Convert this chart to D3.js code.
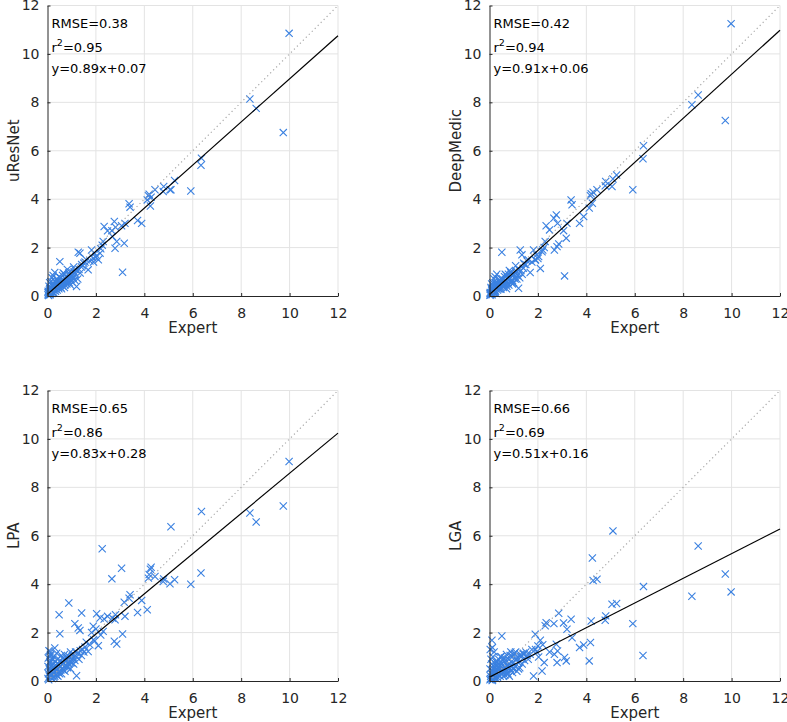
<!DOCTYPE html>
<html>
<head>
<meta charset="utf-8">
<script src="https://cdn.jsdelivr.net/npm/d3@7"></script>
<style>
  html, body { margin: 0; padding: 0; background: #ffffff; }
  svg { display: block; font-family: "DejaVu Sans", sans-serif; }
</style>
</head>
<body>
<svg id="chart" width="787" height="722"></svg>
<script>
// ---------------- data ----------------
const methods = ["uResNet", "DeepMedic", "LPA", "LGA"];
const rmseLabels = ["0.38", "0.42", "0.65", "0.66"];
const r2Labels = ["0.95", "0.94", "0.86", "0.69"];
const slopes = [0.89, 0.91, 0.83, 0.51];
const intercepts = [0.07, 0.06, 0.28, 0.16];
const axisTicks = [0, 2, 4, 6, 8, 10, 12];
const xLabel = "Expert";

// Expert (reference) volumes, one per subject
const expert = [
  9.98, 9.74, 8.62, 8.36, 6.36, 6.34, 5.92, 5.25, 5.1, 5.06,
  4.8, 4.78, 4.44, 4.28, 4.25, 4.17, 4.12, 4.2, 3.89, 3.72,
  3.41, 3.37, 3.2, 3.1, 3.17, 2.86, 2.81, 2.76, 2.79, 2.68,
  2.66, 3.06, 2.48, 2.34, 2.3, 2.26, 2.17, 2.1, 2.03, 1.89,
  1.82, 1.68, 1.34, 1.27, 1.2, 0.51, 0.3, 0.88, 0.48, 1.41,
  1.13, 0.1, 0.12,
  0.02, 0.04, 0.05, 0.07, 0.08, 0.1, 0.12, 0.13, 0.15, 0.17,
  0.18, 0.2, 0.22, 0.24, 0.25, 0.27, 0.28, 0.3, 0.32, 0.33,
  0.35, 0.37, 0.38, 0.4, 0.42, 0.44, 0.45, 0.47, 0.5, 0.52,
  0.54, 0.55, 0.57, 0.6, 0.62, 0.64, 0.66, 0.68, 0.7, 0.72,
  0.74, 0.76, 0.78, 0.8, 0.83, 0.85, 0.88, 0.9, 0.93, 0.95,
  0.98, 1.0, 1.03, 1.06, 1.1, 1.13, 1.16, 1.2, 1.25, 1.3,
  1.35, 1.4, 1.45, 1.5, 1.55, 1.6, 1.75, 1.95, 2.0, 2.2,
  1.9, 0.06, 0.03, 0.09, 0.14, 0.19, 0.23, 0.26, 0.02, 0.11,
  0.16, 0.21, 0.36, 0.43, 0.58, 0.65, 0.7, 0.82, 0.95, 1.08
];

const uResNet = [
  10.85, 6.75, 7.75, 8.14, 5.69, 5.4, 4.34, 4.77, 4.39, 4.39,
  4.52, 4.32, 4.39, 4.08, 3.72, 4.14, 3.97, 4.2, 3.0, 3.12,
  3.67, 3.81, 3.0, 0.98, 2.18, 2.25, 2.84, 3.08, 1.97, 2.46,
  2.7, 2.9, 2.69, 2.87, 2.25, 2.1, 1.77, 1.5, 1.66, 1.56,
  1.9, 1.08, 1.77, 1.81, 0.39, 1.42, 0.97, 0.95, 0.8, 1.3,
  1.1, 0.3, 0.2,
  0.05, 0.1, 0.02, 0.15, 0.25, 0.08, 0.35, 0.12, 0.2, 0.45,
  0.1, 0.3, 0.18, 0.5, 0.25, 0.12, 0.4, 0.3, 0.6, 0.2,
  0.45, 0.35, 0.7, 0.25, 0.5, 0.4, 0.65, 0.3, 0.55, 0.45,
  0.75, 0.35, 0.6, 0.5, 0.85, 0.4, 0.65, 0.55, 0.9, 0.45,
  0.7, 0.6, 0.8, 0.5, 0.75, 0.65, 0.9, 0.55, 0.8, 0.7,
  1.0, 0.6, 0.85, 0.75, 1.0, 0.65, 0.9, 1.05, 0.7, 1.1,
  0.95, 1.2, 1.25, 1.35, 1.4, 1.5, 1.45, 1.75, 1.6, 1.95,
  1.4, 0.4, 0.2, 0.55, 0.6, 0.75, 0.85, 0.45, 0.15, 0.05,
  0.3, 0.15, 0.55, 0.6, 0.3, 0.95, 0.35, 1.1, 0.45, 1.2
];

const deepMedic = [
  11.25, 7.25, 8.3, 7.9, 6.21, 5.67, 4.39, 5.0, 4.83, 4.52,
  4.73, 4.55, 4.39, 4.29, 3.83, 4.14, 3.63, 4.22, 3.28, 3.0,
  3.77, 3.97, 3.0, 0.83, 2.39, 2.15, 3.0, 3.35, 2.04, 1.9,
  3.21, 2.7, 2.73, 2.9, 2.25, 2.0, 1.83, 1.14, 1.63, 1.49,
  1.9, 0.97, 1.7, 1.9, 0.32, 1.81, 0.9, 1.0, 0.7, 1.35,
  1.0, 0.2, 0.25,
  0.03, 0.08, 0.05, 0.12, 0.3, 0.1, 0.3, 0.18, 0.15, 0.4,
  0.12, 0.25, 0.22, 0.55, 0.2, 0.1, 0.45, 0.35, 0.5, 0.25,
  0.4, 0.3, 0.65, 0.3, 0.55, 0.35, 0.6, 0.28, 0.5, 0.5,
  0.7, 0.4, 0.55, 0.45, 0.8, 0.5, 0.6, 0.65, 0.85, 0.4,
  0.75, 0.55, 0.9, 0.45, 0.7, 0.6, 0.95, 0.6, 0.85, 0.65,
  0.9, 0.55, 0.9, 0.7, 0.95, 0.7, 0.85, 1.1, 0.75, 1.05,
  0.9, 1.15, 1.3, 1.3, 1.45, 1.5, 1.4, 1.7, 1.55, 1.9,
  1.5, 0.35, 0.15, 0.5, 0.55, 0.7, 0.8, 0.5, 0.1, 0.05,
  0.35, 0.15, 0.5, 0.65, 0.35, 0.9, 0.3, 1.05, 0.5, 1.25
];

const lpa = [
  9.07, 7.23, 6.57, 6.94, 7.0, 4.46, 4.0, 4.18, 6.37, 4.02,
  4.21, 4.11, 4.32, 4.7, 4.62, 4.25, 2.94, 4.4, 3.33, 2.83,
  3.56, 3.42, 2.67, 1.94, 3.25, 1.53, 2.74, 1.64, 2.53, 2.6,
  4.22, 4.66, 2.67, 2.56, 2.05, 5.46, 2.6, 1.46, 2.78, 2.26,
  2.0, 1.22, 2.09, 2.19, 0.22, 1.95, 1.36, 3.22, 2.74, 2.81,
  2.37, 1.22, 1.1,
  0.1, 0.3, 0.05, 0.5, 0.2, 0.8, 0.15, 0.4, 0.6, 0.25,
  0.9, 0.1, 0.45, 0.7, 1.0, 0.3, 0.55, 0.2, 0.8, 0.4,
  0.65, 0.25, 1.15, 0.5, 0.9, 0.35, 0.7, 0.55, 0.3, 0.85,
  0.6, 0.45, 1.05, 0.7, 0.5, 0.95, 0.75, 0.6, 1.1, 0.4,
  0.8, 0.65, 1.0, 0.85, 0.55, 0.9, 0.7, 1.0, 0.8, 1.2,
  0.9, 0.75, 1.05, 0.95, 1.1, 0.85, 1.2, 1.0, 1.15, 0.9,
  1.25, 1.05, 1.3, 1.2, 1.4, 1.6, 1.5, 1.65, 2.15, 1.9,
  1.7, 1.25, 0.95, 0.75, 1.05, 0.65, 0.9, 0.15, 0.6, 0.35,
  0.12, 0.55, 0.4, 0.2, 0.3, 0.45, 0.9, 0.6, 0.5, 0.7
];

const lga = [
  3.68, 4.42, 5.58, 3.5, 3.9, 1.05, 2.37, 3.2, 6.2, 3.17,
  2.69, 2.51, 4.2, 4.15, 5.08, 1.59, 0.83, 2.48, 1.49, 1.38,
  1.79, 2.55, 2.14, 0.97, 0.83, 2.8, 1.24, 1.52, 0.76, 1.1,
  2.37, 2.4, 1.2, 2.41, 2.28, 0.76, 0.41, 1.68, 0.99, 1.93,
  0.21, 1.1, 1.03, 1.1, 0.5, 1.86, 0.6, 1.2, 1.0, 1.1,
  0.9, 1.68, 1.38,
  0.05, 0.1, 0.2, 0.08, 0.3, 0.15, 0.4, 0.05, 0.25, 0.5,
  0.12, 0.6, 0.2, 0.35, 0.7, 0.1, 0.45, 0.3, 0.8, 0.15,
  0.55, 0.25, 0.9, 0.4, 0.65, 0.2, 1.0, 0.5, 0.3, 0.7,
  0.45, 0.85, 0.35, 0.6, 0.95, 0.25, 0.75, 0.5, 1.1, 0.4,
  0.65, 0.3, 0.9, 0.55, 0.7, 1.05, 0.45, 0.8, 0.6, 1.0,
  0.75, 0.5, 1.15, 0.6, 0.9, 0.4, 0.95, 0.75, 0.55, 1.0,
  0.7, 1.15, 0.85, 1.2, 1.05, 0.9, 1.3, 1.2, 1.45, 1.5,
  1.3, 0.9, 1.3, 0.7, 1.0, 1.2, 0.55, 0.8, 0.5, 0.02,
  0.35, 0.15, 0.7, 0.55, 0.2, 0.85, 0.3, 0.2, 0.35, 1.2
];

const predictions = [uResNet, deepMedic, lpa, lga];

// ---------------- layout ----------------
const svg = d3.select("#chart");
const plotSize = 290.5;
const panelLeft = [47.5, 489.5];
const panelTop = [5.5, 390.5];
const markerColor = "#3a80e0";
const axisColor = "#262626";
const gridColor = "#e3e3e3";

methods.forEach((name, i) => {
  const left = panelLeft[i % 2];
  const top = panelTop[Math.floor(i / 2)];
  const g = svg.append("g").attr("transform", `translate(${left},${top})`);

  const x = d3.scaleLinear().domain([0, 12]).range([0, plotSize]);
  const y = d3.scaleLinear().domain([0, 12]).range([plotSize, 0]);

  // grid
  const grid = g.append("g");
  grid.selectAll("line.vx").data(axisTicks.slice(1)).join("line")
    .attr("x1", d => x(d)).attr("x2", d => x(d))
    .attr("y1", 0).attr("y2", plotSize)
    .attr("stroke", gridColor).attr("stroke-width", 1);
  grid.selectAll("line.hy").data(axisTicks.slice(1)).join("line")
    .attr("x1", 0).attr("x2", plotSize)
    .attr("y1", d => y(d)).attr("y2", d => y(d))
    .attr("stroke", gridColor).attr("stroke-width", 1);

  // markers
  const vals = predictions[i];
  const pts = expert.map((e, k) => [e, vals[k]]);
  const s = 3.6;
  g.append("g").selectAll("path").data(pts).join("path")
    .attr("transform", d => `translate(${x(d[0])},${y(d[1])})`)
    .attr("d", `M${-s},${-s}L${s},${s}M${-s},${s}L${s},${-s}`)
    .attr("stroke", markerColor).attr("stroke-width", 1.1).attr("fill", "none");

  // identity line
  g.append("line")
    .attr("x1", x(0)).attr("y1", y(0)).attr("x2", x(12)).attr("y2", y(12))
    .attr("stroke", "#a8a8a8").attr("stroke-width", 1.2)
    .attr("stroke-dasharray", "1.2,3");

  // fit line
  const fit = [0, 12].map(v => [v, slopes[i] * v + intercepts[i]]);
  g.append("line")
    .attr("x1", x(fit[0][0])).attr("y1", y(fit[0][1]))
    .attr("x2", x(fit[1][0])).attr("y2", y(fit[1][1]))
    .attr("stroke", "#000").attr("stroke-width", 1.2);

  // axes
  const xAxis = d3.axisBottom(x).tickValues(axisTicks).tickFormat(d3.format("d"))
    .tickSizeInner(-3).tickSizeOuter(0).tickPadding(12.5);
  const yAxis = d3.axisLeft(y).tickValues(axisTicks).tickFormat(d3.format("d"))
    .tickSizeInner(-3).tickSizeOuter(0).tickPadding(8);
  const gx = g.append("g").attr("transform", `translate(0,${plotSize})`).call(xAxis);
  const gy = g.append("g").call(yAxis);
  [gx, gy].forEach(a => {
    a.select(".domain").attr("stroke", axisColor).attr("stroke-width", 1);
    a.selectAll(".tick line").attr("stroke", axisColor);
    a.selectAll("text").attr("fill", axisColor)
      .style("font-family", "'DejaVu Sans', sans-serif").style("font-size", "14px");
  });

  // axis labels
  g.append("text").attr("x", plotSize / 2).attr("y", plotSize + 37)
    .attr("text-anchor", "middle").attr("fill", axisColor)
    .style("font-size", "15px").text(xLabel);
  g.append("text")
    .attr("transform", `translate(${-29},${plotSize / 2}) rotate(-90)`)
    .attr("text-anchor", "middle").attr("fill", axisColor)
    .style("font-size", "15px").text(name);

  // annotations
  const ann = g.append("g").attr("fill", "#000").style("font-size", "13px");
  ann.append("text").attr("x", 4).attr("y", 22).text("RMSE=" + rmseLabels[i]);
  const r2 = ann.append("text").attr("x", 4).attr("y", 46);
  r2.append("tspan").text("r");
  r2.append("tspan").attr("dy", -6).style("font-size", "9.5px").text("2");
  r2.append("tspan").attr("dy", 6).text("=" + r2Labels[i]);
  ann.append("text").attr("x", 4).attr("y", 67)
    .text(`y=${slopes[i].toFixed(2)}x+${intercepts[i].toFixed(2)}`);
});
</script>
</body>
</html>
